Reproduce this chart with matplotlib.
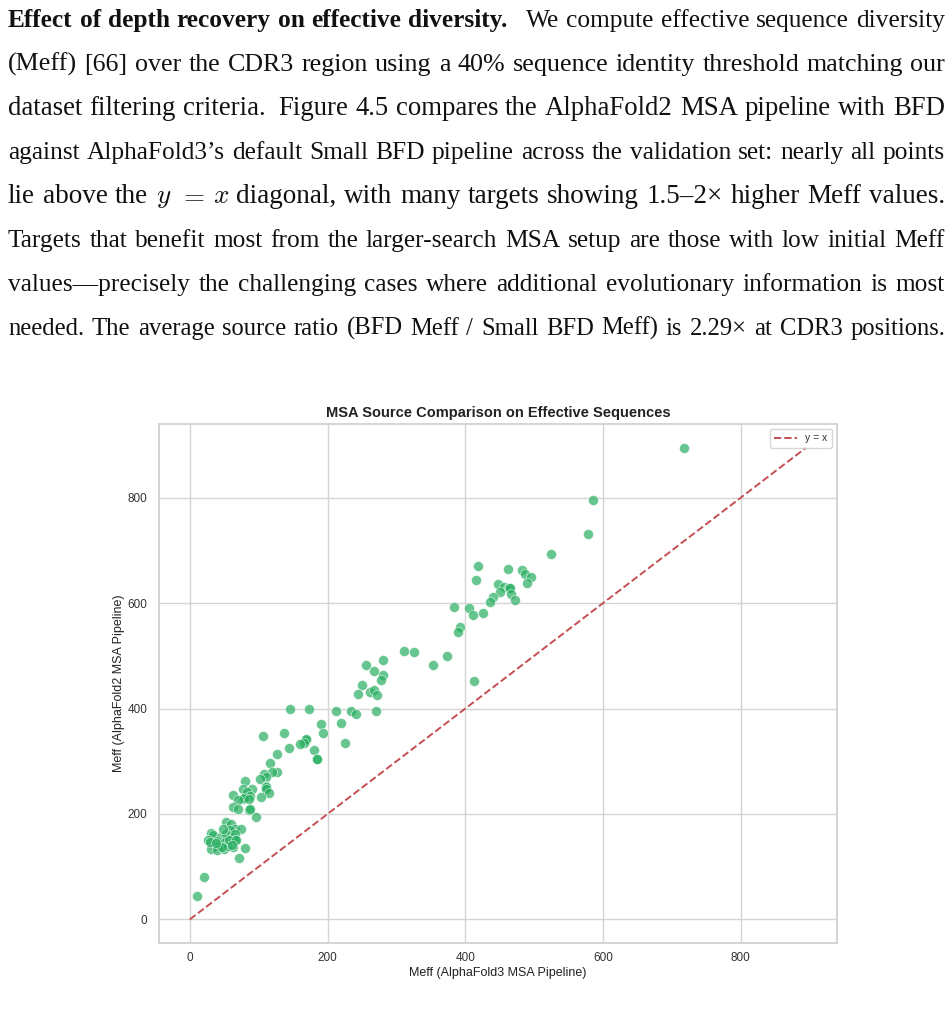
import matplotlib
matplotlib.use("Agg")
import matplotlib.pyplot as plt
import seaborn as sns
import numpy as np

# Meff values (x = AlphaFold3 pipeline, y = AlphaFold2 pipeline)
af3_meff = [718, 586, 578, 525, 483, 486, 496, 418, 462, 415, 490, 447, 456, 463, 465,
            451, 467, 440, 472, 436, 384, 406, 411, 426, 392, 390, 311, 325, 373, 353,
            413, 280, 281, 278, 256, 268, 250, 261, 268, 272, 244, 145, 173, 212, 234,
            242, 270, 190, 219, 193, 137, 169, 168, 166, 160, 144, 180, 226, 184, 185,
            106, 126, 117, 126, 119, 107, 111, 102, 80, 110, 111, 110, 77, 90, 83,
            115, 103, 62, 88, 77, 78, 70, 86, 63, 70, 86, 87, 96,
            11, 20, 72, 80, 52, 31, 33, 27, 60, 65, 75, 58, 45, 53, 63, 65, 39, 51,
            66, 41, 31, 40, 50, 63, 56, 47, 29, 48, 57, 38, 67, 61]
af2_meff = [895, 795, 732, 694, 662, 655, 650, 670, 665, 643, 638, 636, 630, 629, 628,
            621, 617, 612, 605, 602, 592, 591, 577, 581, 555, 546, 510, 508, 499, 482,
            453, 493, 464, 455, 482, 471, 445, 432, 435, 426, 427, 400, 400, 396, 396,
            390, 396, 371, 373, 353, 353, 341, 342, 335, 332, 325, 322, 334, 305, 304,
            348, 314, 297, 279, 280, 276, 271, 267, 262, 253, 251, 247, 247, 247, 241,
            239, 233, 236, 234, 229, 230, 226, 229, 214, 210, 208, 209, 195,
            44, 81, 117, 135, 184, 164, 161, 151, 181, 172, 171, 170, 156, 162, 156, 162, 148, 146,
            150, 140, 134, 132, 134, 137, 139, 138, 146, 171, 150, 144, 151, 142]

title = "MSA Source Comparison on Effective Sequences"
xlabel = "Meff (AlphaFold3 MSA Pipeline)"
ylabel = "Meff (AlphaFold2 MSA Pipeline)"

# paragraph above the figure, one entry per printed line; "**" marks bold words
para_lines = [
    "**Effect **of **depth **recovery **on **effective **diversity.   We compute effective sequence diversity",
    "(Meff) [66] over the CDR3 region using a 40% sequence identity threshold matching our",
    "dataset filtering criteria.  Figure 4.5 compares the AlphaFold2 MSA pipeline with BFD",
    "against AlphaFold3\u2019s default Small BFD pipeline across the validation set: nearly all points",
    "lie above the $y$ $=$ $x$ diagonal, with many targets showing 1.5\u20132\u00d7 higher Meff values.",
    "Targets that benefit most from the larger-search MSA setup are those with low initial Meff",
    "values\u2014precisely the challenging cases where additional evolutionary information is most",
    "needed. The average source ratio (BFD Meff / Small BFD Meff) is 2.29\u00d7 at CDR3 positions.",
]

sns.set_theme(style="whitegrid")
plt.rcParams["font.family"] = ["Liberation Sans", "DejaVu Sans"]
plt.rcParams["mathtext.fontset"] = "cm"

W, H = 953, 1015
fig = plt.figure(figsize=(W / 100, H / 100), dpi=100)
renderer = fig.canvas.get_renderer()

# justified paragraph, word by word
left_px, right_px = 8, 945
serif = ["Liberation Serif", "DejaVu Serif"]
for i, line in enumerate(para_lines):
    raw = line.split(" ")
    words, gaps = [], []
    pending_gap = 1.0
    for tok in raw:
        if tok == "":
            pending_gap += 0.8
            continue
        if words:
            gaps.append(pending_gap)
        pending_gap = 1.0
        bold = tok.startswith("**")
        words.append((tok[2:] if bold else tok, "bold" if bold else "normal"))
    base_y = 1 - (27 + 44 * i) / H
    size = 19.5
    while True:
        objs = [fig.text(0, base_y, txt, fontsize=size, fontweight=wt, family=serif,
                         va="baseline", ha="left", color="#111111")
                for txt, wt in words]
        widths = [t.get_window_extent(renderer).width for t in objs]
        spare = (right_px - left_px) - sum(widths)
        if spare / sum(gaps) >= 7 or size < 15:
            break
        for t in objs:
            t.remove()
        size -= 0.25
    unit = spare / sum(gaps)
    x = left_px
    for j, t in enumerate(objs):
        t.set_x(x / W)
        x += widths[j]
        if j < len(gaps):
            x += unit * gaps[j]

# scatter chart
ax = fig.add_axes([159 / W, 1 - 943 / H, (837 - 159) / W, (943 - 424) / H])
ax.scatter(af3_meff, af2_meff, s=52, color="#27ae60", alpha=0.7,
           edgecolor="white", linewidth=0.5, zorder=3)
max_val = max(max(af3_meff), max(af2_meff))
diag = np.array([0, max_val])
ax.plot(diag, diag, "r--", linewidth=1.4, label="y = x", zorder=2)
ax.set_xlim(-0.05 * max_val, 1.05 * max_val)
ax.set_ylim(-0.05 * max_val, 1.05 * max_val)
ax.set_xticks([0, 200, 400, 600, 800])
ax.set_yticks([0, 200, 400, 600, 800])
ax.tick_params(labelsize=8.5, colors="#333333", length=0)
ax.tick_params(axis="x", pad=6.5)
ax.tick_params(axis="y", pad=8.5)
ax.set_xlabel(xlabel, fontsize=9, color="#222222", labelpad=2)
ax.set_ylabel(ylabel, fontsize=9, color="#222222", labelpad=2)
ax.set_title(title, fontsize=10.5, fontweight="bold", color="#222222", pad=5)
ax.grid(True, color="#d5d5d5", linewidth=1.0)
for sp in ax.spines.values():
    sp.set_color("#cfcfcf")
leg = ax.legend(loc="upper right", fontsize=7.5, frameon=True, handlelength=2.2,
                borderpad=0.4, fancybox=True)
leg.get_frame().set_edgecolor("#cccccc")
for t in leg.get_texts():
    t.set_color("#333333")

fig.savefig("out.png", dpi=100)
